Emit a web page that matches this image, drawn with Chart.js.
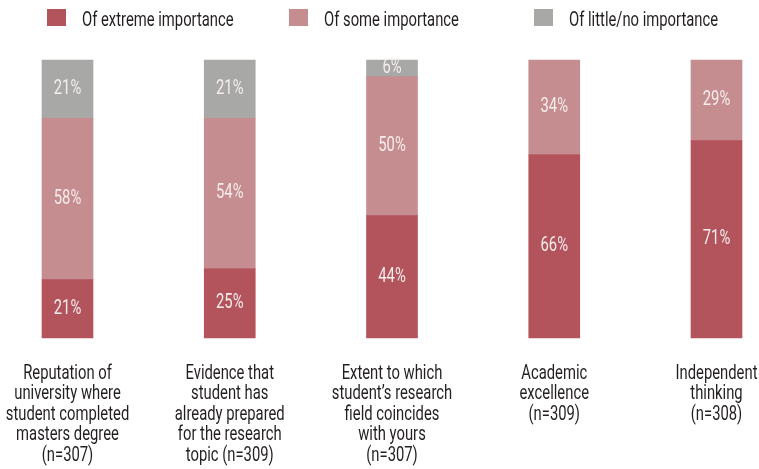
<!DOCTYPE html>
<html>
<head>
<meta charset="utf-8">
<script src="https://cdn.jsdelivr.net/npm/chart.js@4/dist/chart.umd.min.js"></script>
<style>
  body { margin: 0; background: #fff; }
</style>
</head>
<body>
<canvas id="importanceChart" width="759" height="469"></canvas>
<script>
const categories = [
  ["Reputation of", "university where", "student completed", "masters degree", "(n=307)"],
  ["Evidence that", "student has", "already prepared", "for the research", "topic (n=309)"],
  ["Extent to which", "student\u2019s research", "field coincides", "with yours", "(n=307)"],
  ["Academic", "excellence", "(n=309)"],
  ["Independent", "thinking", "(n=308)"],
];
const seriesNames = ["Of extreme importance", "Of some importance", "Of little/no importance"];
const extreme = [21, 25, 44, 66, 71];
const some = [58, 54, 50, 34, 29];
const little = [21, 21, 6, null, null];
const colors = ["#b3535c", "#c58d90", "#a8a8a7"];

// text is drawn narrowed horizontally to get a condensed look
const fontFamily = "Roboto, 'DejaVu Sans Condensed', sans-serif";
const squeeze = 0.74;
const legendX = [47, 289, 534];

function squeezedText(ctx, text, x, y, align) {
  ctx.save();
  ctx.translate(x, y);
  ctx.scale(squeeze, 1);
  ctx.textAlign = align;
  ctx.fillText(text, 0, 0);
  ctx.restore();
}

// legend, percentage labels and category names
const annotate = {
  id: "annotate",
  afterDatasetsDraw(chart) {
    const ctx = chart.ctx;
    const xScale = chart.scales.x;
    ctx.save();

    ctx.font = "20px " + fontFamily;
    ctx.textBaseline = "middle";
    ctx.fillStyle = "#f6eded";
    chart.data.datasets.forEach((ds, i) => {
      chart.getDatasetMeta(i).data.forEach((bar, j) => {
        const v = ds.data[j];
        if (v == null) return;
        const p = bar.getProps(["x", "y", "base"], true);
        squeezedText(ctx, v + "%", p.x, (p.y + p.base) / 2, "center");
      });
    });

    ctx.textBaseline = "alphabetic";
    ctx.fillStyle = "#231f20";
    chart.data.labels.forEach((lines, i) => {
      const x = xScale.getPixelForValue(i);
      lines.forEach((line, k) => {
        squeezedText(ctx, line, x, chart.chartArea.bottom + 41 + k * 20.4, "center");
      });
    });

    chart.data.datasets.forEach((ds, i) => {
      ctx.fillStyle = ds.backgroundColor;
      ctx.fillRect(legendX[i], 9, 19, 17);
      ctx.fillStyle = "#231f20";
      squeezedText(ctx, ds.label, legendX[i] + 35, 25.5, "left");
    });

    ctx.restore();
  },
};

new Chart(document.getElementById("importanceChart").getContext("2d"), {
  type: "bar",
  data: {
    labels: categories,
    datasets: [
      { label: seriesNames[0], data: extreme, backgroundColor: colors[0] },
      { label: seriesNames[1], data: some, backgroundColor: colors[1] },
      { label: seriesNames[2], data: little, backgroundColor: colors[2] },
    ],
  },
  options: {
    responsive: false,
    animation: false,
    barThickness: 51,
    clip: false,
    layout: { padding: { left: 67.5, right: 42.5, top: 60, bottom: 131 } },
    plugins: { legend: { display: false }, tooltip: { enabled: false } },
    scales: {
      x: { stacked: true, offset: false, display: false },
      y: { stacked: true, display: false, min: 0, max: 100 },
    },
  },
  plugins: [annotate],
});
</script>
</body>
</html>
